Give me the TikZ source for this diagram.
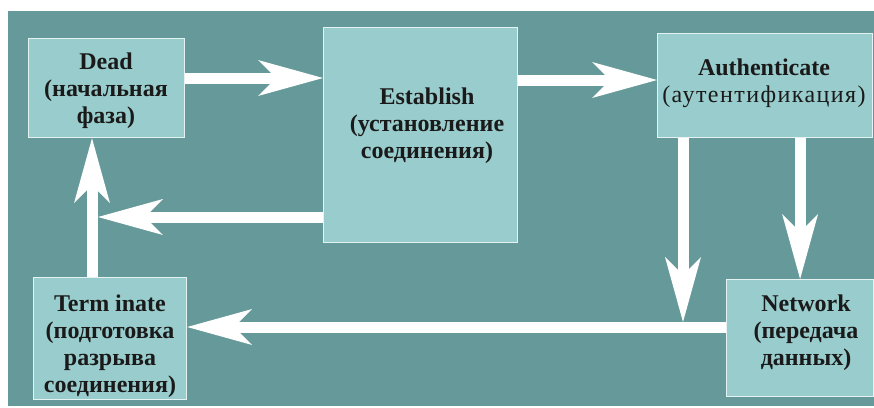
\documentclass[tikz,border=0pt]{standalone}
\usepackage{fontspec}
\setmainfont{Liberation Serif}
\newfontfamily\spacedserif[LetterSpace=6]{Liberation Serif}
\usetikzlibrary{arrows.meta}
\definecolor{field}{HTML}{669999}
\definecolor{boxfill}{HTML}{99CCCC}
\definecolor{boxline}{HTML}{E4F2F2}
\definecolor{ink}{HTML}{1A1A1A}
\begin{document}
\begin{tikzpicture}[x=1pt,y=-1pt,
  state/.style={draw=boxline, line width=1.2pt, fill=boxfill, anchor=north west, inner sep=0pt},
  caption/.style={align=center, text=ink, font=\fontsize{24}{27}\selectfont\bfseries, inner sep=0pt},
  fat/.style={draw=white, line width=11pt,
    -{Stealth[length=65pt,width=36pt,inset=18pt,line width=0pt]}}]
\useasboundingbox (0,0) rectangle (874,407);
\fill[field] (8,11) rectangle (874,406);

% states
\node[state, minimum width=156pt, minimum height=99pt]  (dead) at (28,38)  {};
\node[state, minimum width=194pt, minimum height=215pt] (est)  at (323,27) {};
\node[state, minimum width=215pt, minimum height=104pt] (auth) at (657,33) {};
\node[state, minimum width=153pt, minimum height=122pt] (term) at (33,277) {};
\node[state, minimum width=147pt, minimum height=117pt] (net)  at (726,279) {};

% labels
\node[caption] (deadt) at (106,91)  {Dead\\(начальная\\фаза)};
\node[caption] (estt)  at (427,126) {Establish\\(установление\\соединения)};
\node[caption] (autht) at (764,83)  {Authenticate\\{\spacedserif\mdseries(аутентификация)}};
\node[caption] (termt) at (110,346) {Term inate\\(подготовка\\разрыва\\соединения)};
\node[caption] (nett)  at (806,333) {Network\\(передача\\данных)};

% routing points
\coordinate (rowa) at (0,78);
\coordinate (rowb) at (0,80);
\coordinate (rowc) at (0,327);
\coordinate (back) at (98,217);
\coordinate (cola) at (92,0);
\coordinate (join) at (683,322);

% transitions
\draw[fat] (dead.east |- rowa) -- (est.west |- rowa);
\draw[fat] (est.east |- rowb) -- (auth.west |- rowb);
\draw[fat] (auth.south -| join) -- (join);
\draw[fat] (auth.south -| net.north) -- (net.north);
\draw[fat] (net.west |- rowc) -- (term.east |- rowc);
\draw[fat] (est.west |- back) -- (back);
\draw[fat] (term.north -| cola) -- (dead.south -| cola);
\end{tikzpicture}
\end{document}
